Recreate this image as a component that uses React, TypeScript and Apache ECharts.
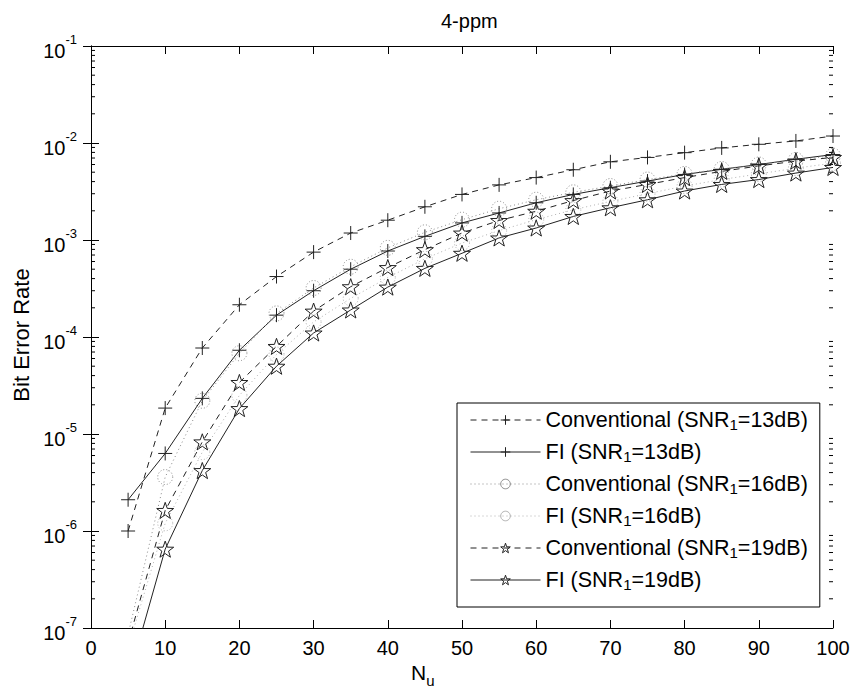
import React, { useEffect, useRef } from "react";
import * as echarts from "echarts";

// Number of users N_u
const nu = [5, 10, 15, 20, 25, 30, 35, 40, 45, 50, 55, 60, 65, 70, 75, 80, 85, 90, 95, 100];

const conv13 = [1.0e-6, 1.85e-5, 7.7e-5, 2.15e-4, 4.2e-4, 7.5e-4, 1.18e-3, 1.6e-3, 2.2e-3, 2.95e-3, 3.7e-3, 4.4e-3, 5.3e-3, 6.4e-3, 7.1e-3, 7.95e-3, 8.9e-3, 9.7e-3, 1.05e-2, 1.18e-2];
const fi13 = [2.1e-6, 6.3e-6, 2.33e-5, 7.3e-5, 1.68e-4, 3.0e-4, 5.0e-4, 7.7e-4, 1.09e-3, 1.5e-3, 1.9e-3, 2.42e-3, 2.95e-3, 3.46e-3, 4.05e-3, 4.74e-3, 5.35e-3, 6.0e-3, 6.8e-3, 7.6e-3];
const conv16 = [8.6e-8, 3.6e-6, 2.2e-5, 6.8e-5, 1.75e-4, 3.2e-4, 5.3e-4, 8.3e-4, 1.2e-3, 1.62e-3, 2.1e-3, 2.6e-3, 3.1e-3, 3.6e-3, 4.2e-3, 4.8e-3, 5.4e-3, 6.0e-3, 6.7e-3, 7.4e-3];
const fi16 = [6.3e-8, 1.2e-6, 6.5e-6, 2.5e-5, 6.6e-5, 1.43e-4, 2.5e-4, 4.1e-4, 6.4e-4, 9.3e-4, 1.25e-3, 1.62e-3, 2.05e-3, 2.5e-3, 3.0e-3, 3.6e-3, 4.2e-3, 4.8e-3, 5.5e-3, 6.2e-3];
const conv19 = [7.0e-8, 1.63e-6, 8.3e-6, 3.4e-5, 8.0e-5, 1.85e-4, 3.3e-4, 5.2e-4, 7.96e-4, 1.18e-3, 1.59e-3, 1.98e-3, 2.55e-3, 3.2e-3, 3.74e-3, 4.4e-3, 5.1e-3, 5.8e-3, 6.5e-3, 7.1e-3];
const fi19 = [2.9e-8, 6.5e-7, 4.2e-6, 1.83e-5, 5.0e-5, 1.1e-4, 1.9e-4, 3.27e-4, 5.1e-4, 7.3e-4, 1.05e-3, 1.33e-3, 1.75e-3, 2.15e-3, 2.6e-3, 3.2e-3, 3.74e-3, 4.2e-3, 4.9e-3, 5.6e-3];

const seriesNames = [
  "Conventional (SNR1=13dB)",
  "FI (SNR1=13dB)",
  "Conventional (SNR1=16dB)",
  "FI (SNR1=16dB)",
  "Conventional (SNR1=19dB)",
  "FI (SNR1=19dB)",
];

const titleText = "4-ppm";
const yTitle = "Bit Error Rate";

// minor log ticks 2..9 within each decade
const minorExps = [-7, -6, -5, -4, -3, -2];
const minorMults = [2, 3, 4, 5, 6, 7, 8, 9];

const PLUS = "path://M50 0 L50 100 M0 50 L100 50";
const STAR =
  "path://M50 4 L61.17 36.63 L95.65 37.17 L68.07 57.87 L78.21 90.83 L50 71 L21.79 90.83 L31.93 57.87 L4.35 37.17 L38.83 36.63 Z";

const FONT = "'Liberation Sans', Arial, Helvetica, sans-serif";

export default function App() {
  const ref = useRef<HTMLDivElement>(null);

  useEffect(() => {
    if (!ref.current) return;
    const chart = echarts.init(ref.current, null, { renderer: "svg" });

    const pairs = (ys: number[]) => nu.map((x, i) => [x, ys[i]]);

    const minorData: number[][] = [];
    minorExps.forEach((e) => minorMults.forEach((m) => minorData.push([0, m * Math.pow(10, e)])));

    const mk = (
      name: string,
      ys: number[],
      symbol: string,
      lineType: any,
      color: string,
      symbolSize: number,
      borderType: any = "solid"
    ) => ({
      name,
      type: "line",
      data: pairs(ys),
      symbol,
      symbolSize,
      symbolKeepAspect: true,
      showAllSymbol: true,
      xAxisIndex: 0,
      yAxisIndex: 0,
      clip: true,
      lineStyle: { color, width: 1, type: lineType },
      itemStyle: { color: "transparent", borderColor: color, borderWidth: 1, borderType },
      emphasis: { disabled: true },
      z: 3,
    });

    const legendFmt = (name: string) => name.replace("SNR1", "SNR{sub|1}");

    const option: any = {
      animation: false,
      backgroundColor: "#fff",
      textStyle: { fontFamily: FONT },
      grid: { left: 91, right: 20, top: 46, bottom: 63 },
      legend: {
        data: seriesNames,
        orient: "vertical",
        left: 457,
        top: 403,
        padding: [5, 12, 15, 13],
        itemWidth: 70,
        itemHeight: 12,
        itemGap: 8,
        borderColor: "#000",
        borderWidth: 1,
        borderRadius: 0,
        backgroundColor: "#fff",
        formatter: legendFmt,
        itemStyle: { color: "transparent", borderWidth: 1 },
        lineStyle: { width: 1 },
        textStyle: {
          fontFamily: FONT,
          fontSize: 21.5,
          color: "#000",
          lineHeight: 24,
          rich: {
            sub: { fontFamily: FONT, fontSize: 15, color: "#000", verticalAlign: "bottom", lineHeight: 14, padding: [8, 0, 0, 0] },
          },
        },
        selectedMode: false,
      },
      xAxis: [
        {
          type: "value",
          min: 0,
          max: 100,
          interval: 10,
          position: "bottom",
          axisLine: { show: true, onZero: false, lineStyle: { color: "#000", width: 1 } },
          axisTick: { show: true, inside: true, length: 8, lineStyle: { color: "#000" } },
          axisLabel: { show: true, color: "#000", fontSize: 20, fontFamily: FONT, margin: 10 },
          splitLine: { show: false },
        },
        {
          type: "value",
          min: 0,
          max: 100,
          interval: 10,
          position: "top",
          axisLine: { show: true, onZero: false, lineStyle: { color: "#000", width: 1 } },
          axisTick: { show: true, inside: true, length: 8, lineStyle: { color: "#000" } },
          axisLabel: { show: false },
          splitLine: { show: false },
        },
      ],
      yAxis: [
        {
          type: "log",
          logBase: 10,
          min: 1e-7,
          max: 1e-1,
          splitNumber: 6,
          position: "left",
          axisLine: { show: true, lineStyle: { color: "#000", width: 1 } },
          axisTick: { show: true, inside: true, length: 8, lineStyle: { color: "#000" } },
          axisLabel: {
            show: true,
            margin: 14,
            color: "#000",
            formatter: (v: number) => `{b|10}{s|${Math.round(Math.log10(v))}}`,
            rich: {
              b: { fontFamily: FONT, fontSize: 20, color: "#000", lineHeight: 30, verticalAlign: "bottom" },
              s: { fontFamily: FONT, fontSize: 13, color: "#000", lineHeight: 30, verticalAlign: "top", padding: [2, 0, 0, 0] },
            },
          },
          splitLine: { show: false },
        },
        {
          type: "log",
          logBase: 10,
          min: 1e-7,
          max: 1e-1,
          splitNumber: 6,
          position: "right",
          axisLine: { show: true, lineStyle: { color: "#000", width: 1 } },
          axisTick: { show: true, inside: true, length: 8, lineStyle: { color: "#000" } },
          axisLabel: { show: false },
          splitLine: { show: false },
        },
      ],
      series: [
        mk(seriesNames[0], conv13, PLUS, [6, 5], "#222", 14),
        mk(seriesNames[1], fi13, PLUS, "solid", "#222", 14),
        mk(seriesNames[2], conv16, "circle", [1, 3], "#8a8a8a", 15, [1, 2]),
        mk(seriesNames[3], fi16, "circle", [1, 3], "#b0b0b0", 15, [1, 2]),
        mk(seriesNames[4], conv19, STAR, [6, 5], "#222", 17),
        mk(seriesNames[5], fi19, STAR, "solid", "#222", 17),
        {
          name: "minor",
          type: "custom",
          xAxisIndex: 0,
          yAxisIndex: 0,
          silent: true,
          data: minorData,
          renderItem: (_p: any, api: any) => {
            const v = api.value(1);
            const l = api.coord([0, v]);
            const r = api.coord([100, v]);
            return {
              type: "group",
              children: [
                { type: "line", shape: { x1: l[0], y1: l[1], x2: l[0] + 4, y2: l[1] }, style: { stroke: "#000", lineWidth: 1 } },
                { type: "line", shape: { x1: r[0] - 4, y1: r[1], x2: r[0], y2: r[1] }, style: { stroke: "#000", lineWidth: 1 } },
              ],
            };
          },
          z: 2,
        },
      ],
      graphic: [
        {
          type: "text",
          left: 441,
          top: 11,
          style: { text: titleText, fontFamily: FONT, fontSize: 20, fill: "#000" },
        },
        {
          type: "text",
          x: 21,
          y: 335,
          rotation: Math.PI / 2,
          style: {
            text: yTitle,
            fontFamily: FONT,
            fontSize: 22,
            fill: "#000",
            align: "center",
            verticalAlign: "middle",
          },
        },
        {
          type: "text",
          x: 411,
          y: 662,
          style: {
            text: "{b|N}{s|u}",
            fontFamily: FONT,
            fill: "#000",
            rich: {
              b: { fontFamily: FONT, fontSize: 21, fill: "#000", lineHeight: 26, verticalAlign: "top" },
              s: { fontFamily: FONT, fontSize: 15, fill: "#000", lineHeight: 26, verticalAlign: "bottom", padding: [0, 0, 0, 0] },
            },
          },
        },
      ],
    };

    chart.setOption(option);
    return () => chart.dispose();
  }, []);

  return (
    <div
      ref={ref}
      style={{ position: "fixed", left: 0, top: 0, width: 853, height: 691, background: "#fff" }}
    />
  );
}
